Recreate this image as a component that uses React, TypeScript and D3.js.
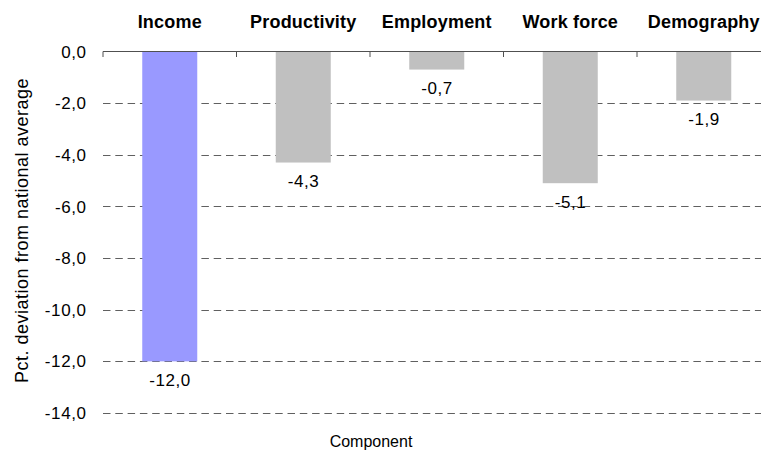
import React from "react";
import * as d3 from "d3";

const categories = ["Income", "Productivity", "Employment", "Work force", "Demography"];
const values = [-12.0, -4.3, -0.7, -5.1, -1.9];
const barColors = ["#9999FF", "#C0C0C0", "#C0C0C0", "#C0C0C0", "#C0C0C0"];
const yTicks = [0, -2, -4, -6, -8, -10, -12, -14];
const yTitle = "Pct. deviation from national average";
const xTitle = "Component";

const W = 761;
const H = 455;
const fmt = (v: number) => d3.format(".1f")(v).replace(".", ",").replace("−", "-");

export default function App() {
  const left = 103;
  const right = 770.5;
  const x = d3.scaleBand<string>().domain(categories).range([left, right]).padding(0);
  const y = d3.scaleLinear().domain([-14, 0]).range([413, 51.5]);
  const step = x.step();
  const barW = step * 0.412;
  const font = "'Liberation Sans', Arial, sans-serif";
  const boundaries = categories.map((c) => x(c) as number).concat([right]);

  return (
    <svg
      width={W}
      height={H}
      style={{ position: "absolute", left: 0, top: 0, background: "#fff" }}
      fontFamily={font}
    >
      <rect x={0} y={0} width={W} height={H} fill="#fff" />
      {yTicks.filter((t) => t !== 0).map((t) => (
        <line
          key={t}
          x1={left}
          x2={W}
          y1={Math.round(y(t)) + 0.5}
          y2={Math.round(y(t)) + 0.5}
          stroke="#606060"
          strokeWidth={1}
          strokeDasharray="7.5,4.8"
        />
      ))}
      {values.map((v, i) => {
        const cx = (x(categories[i]) as number) + step / 2;
        return (
          <rect
            key={categories[i]}
            x={cx - barW / 2}
            y={y(0)}
            width={barW}
            height={y(v) - y(0)}
            fill={barColors[i]}
          />
        );
      })}
      <line x1={left} x2={W} y1={y(0)} y2={y(0)} stroke="#505050" strokeWidth={1} />
      {boundaries.map((b, i) => (
        <line key={i} x1={b} x2={b} y1={y(0)} y2={y(0) + 5.5} stroke="#505050" strokeWidth={1} />
      ))}
      {yTicks.map((t) => (
        <text
          key={t}
          x={86.6}
          y={y(t)}
          dy="0.36em"
          textAnchor="end"
          fontSize={17}
          letterSpacing={0.6}
          fill="#000"
        >
          {fmt(t)}
        </text>
      ))}
      {categories.map((c) => (
        <text
          key={c}
          x={(x(c) as number) + step / 2}
          y={27.5}
          textAnchor="middle"
          fontSize={18}
          fontWeight="bold"
          letterSpacing={0.2}
          fill="#000"
        >
          {c}
        </text>
      ))}
      {values.map((v, i) => (
        <text
          key={categories[i]}
          x={(x(categories[i]) as number) + step / 2 + 0.3}
          y={y(v) + 24.5}
          textAnchor="middle"
          fontSize={17}
          letterSpacing={0.6}
          fill="#000"
        >
          {fmt(v)}
        </text>
      ))}
      <text
        transform={`translate(28,230.5) rotate(-90)`}
        textAnchor="middle"
        fontSize={18}
        letterSpacing={0.5}
        fill="#000"
      >
        {yTitle}
      </text>
      <text x={371} y={447} textAnchor="middle" fontSize={16} fill="#000">
        {xTitle}
      </text>
    </svg>
  );
}
